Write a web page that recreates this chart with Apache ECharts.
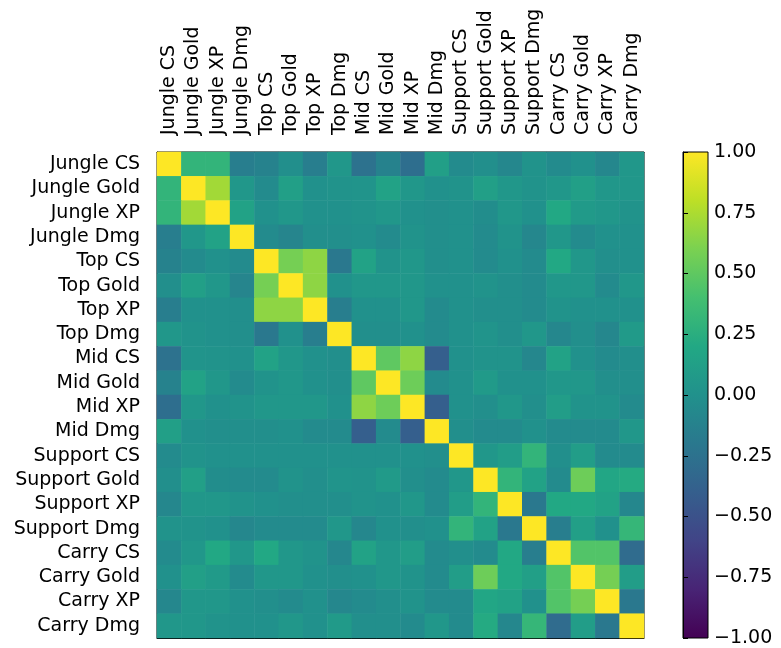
<!DOCTYPE html>
<html>
<head>
<meta charset="utf-8">
<script src="https://cdn.jsdelivr.net/npm/echarts@6/dist/echarts.min.js"></script>
<style>
  html, body { margin: 0; padding: 0; background: #fff; }
  #main { width: 781px; height: 648px; }
</style>
</head>
<body>
<div id="main"></div>
<script>
var labels = ['Jungle CS', 'Jungle Gold', 'Jungle XP', 'Jungle Dmg', 'Top CS', 'Top Gold', 'Top XP', 'Top Dmg',
  'Mid CS', 'Mid Gold', 'Mid XP', 'Mid Dmg', 'Support CS', 'Support Gold', 'Support XP', 'Support Dmg',
  'Carry CS', 'Carry Gold', 'Carry XP', 'Carry Dmg'];

// correlation rows
var rowJungleCS   = [1, 0.30, 0.30, -0.15, -0.12, -0.02, -0.15, 0.05, -0.25, -0.12, -0.28, 0.12, -0.05, -0.02, -0.08, 0.02, -0.05, 0.00, -0.08, 0.05];
var rowJungleGold = [0.30, 1, 0.72, 0.05, -0.05, 0.12, 0.00, 0.02, 0.03, 0.15, 0.05, 0.00, 0.02, 0.12, 0.05, 0.02, 0.05, 0.12, 0.05, 0.05];
var rowJungleXP   = [0.30, 0.72, 1, 0.15, 0.00, 0.05, 0.00, 0.00, 0.02, 0.05, 0.00, -0.02, 0.00, -0.03, 0.05, 0.00, 0.20, 0.08, 0.05, 0.02];
var rowJungleDmg  = [-0.15, 0.05, 0.15, 1, -0.05, -0.10, -0.02, -0.02, 0.00, -0.05, 0.02, -0.02, 0.00, -0.05, 0.02, -0.08, 0.05, -0.05, 0.00, 0.00];
var rowTopCS      = [-0.12, -0.05, 0.00, -0.05, 1, 0.58, 0.66, -0.20, 0.15, 0.02, 0.05, -0.02, 0.00, -0.05, 0.00, -0.05, 0.20, 0.05, -0.02, 0.00];
var rowTopGold    = [-0.02, 0.12, 0.05, -0.10, 0.58, 1, 0.66, 0.00, 0.05, 0.05, 0.05, 0.00, 0.00, 0.02, -0.02, -0.05, 0.05, 0.05, -0.05, 0.05];
var rowTopXP      = [-0.15, 0.00, 0.00, -0.02, 0.66, 0.66, 1, -0.15, 0.00, 0.00, 0.05, -0.05, 0.00, -0.02, -0.02, -0.05, 0.02, 0.00, 0.00, 0.00];
var rowTopDmg     = [0.05, 0.02, 0.00, -0.02, -0.20, 0.00, -0.15, 1, -0.02, -0.02, 0.00, -0.05, 0.00, 0.03, -0.02, 0.05, -0.08, -0.02, -0.08, 0.08];
var rowMidCS      = [-0.25, 0.03, 0.02, 0.00, 0.15, 0.05, 0.00, -0.02, 1, 0.50, 0.66, -0.40, 0.00, 0.02, 0.02, -0.08, 0.15, 0.00, -0.05, -0.02];
var rowMidGold    = [-0.12, 0.15, 0.05, -0.05, 0.02, 0.05, 0.00, -0.02, 0.50, 1, 0.55, -0.05, 0.00, 0.08, 0.00, 0.00, 0.05, 0.05, -0.02, -0.02];
var rowMidXP      = [-0.28, 0.05, 0.00, 0.02, 0.05, 0.05, 0.05, 0.00, 0.66, 0.55, 1, -0.40, 0.00, -0.02, 0.05, -0.02, 0.10, 0.02, 0.02, -0.05];
var rowMidDmg     = [0.12, 0.00, -0.02, -0.02, -0.02, 0.00, -0.05, -0.05, -0.40, -0.05, -0.40, 1, -0.02, -0.05, -0.05, 0.00, -0.05, -0.05, -0.05, 0.05];
var rowSupCS      = [-0.05, 0.02, 0.00, 0.00, 0.00, 0.00, 0.00, 0.00, 0.00, 0.00, 0.00, -0.02, 1, 0.05, 0.10, 0.30, -0.02, 0.10, -0.05, -0.05];
var rowSupGold    = [-0.02, 0.12, -0.03, -0.05, -0.05, 0.02, -0.02, 0.03, 0.02, 0.08, -0.02, -0.05, 0.05, 1, 0.30, 0.15, -0.05, 0.55, 0.18, 0.22];
var rowSupXP      = [-0.08, 0.05, 0.05, 0.02, 0.00, -0.02, -0.02, -0.02, 0.02, 0.00, 0.05, -0.05, 0.10, 0.30, 1, -0.20, 0.20, 0.20, 0.15, -0.08];
var rowSupDmg     = [0.02, 0.02, 0.00, -0.08, -0.05, -0.05, -0.05, 0.05, -0.08, 0.00, -0.02, 0.00, 0.30, 0.15, -0.20, 1, -0.15, 0.12, 0.00, 0.32];
var rowCarryCS    = [-0.05, 0.05, 0.20, 0.05, 0.20, 0.05, 0.02, -0.08, 0.15, 0.05, 0.10, -0.05, -0.02, -0.05, 0.20, -0.15, 1, 0.45, 0.45, -0.30];
var rowCarryGold  = [0.00, 0.12, 0.08, -0.05, 0.05, 0.05, 0.00, -0.02, 0.00, 0.05, 0.02, -0.05, 0.10, 0.55, 0.20, 0.12, 0.45, 1, 0.58, 0.10];
var rowCarryXP    = [-0.08, 0.05, 0.05, 0.00, -0.02, -0.05, 0.00, -0.08, -0.05, -0.02, 0.02, -0.05, -0.05, 0.18, 0.15, 0.00, 0.45, 0.58, 1, -0.20];
var rowCarryDmg   = [0.05, 0.05, 0.02, 0.00, 0.00, 0.05, 0.00, 0.08, -0.02, -0.02, -0.05, 0.05, -0.05, 0.22, -0.08, 0.32, -0.30, 0.10, -0.20, 1];

var matrix = [rowJungleCS, rowJungleGold, rowJungleXP, rowJungleDmg, rowTopCS, rowTopGold, rowTopXP, rowTopDmg,
  rowMidCS, rowMidGold, rowMidXP, rowMidDmg, rowSupCS, rowSupGold, rowSupXP, rowSupDmg,
  rowCarryCS, rowCarryGold, rowCarryXP, rowCarryDmg];

var viridis = ['#440154', '#482475', '#414487', '#355f8d', '#2a788e', '#21918c',
  '#22a884', '#44bf70', '#7ad151', '#bddf26', '#fde725'];

var cells = [];
for (var i = 0; i < matrix.length; i++) {
  for (var j = 0; j < matrix[i].length; j++) {
    cells.push([j, i, matrix[i][j]]);
  }
}

var font = 'DejaVu Sans';
var fs = 19;
var stops = [];
for (var k = 0; k < viridis.length; k++) {
  stops.push({ offset: 1 - k / (viridis.length - 1), color: viridis[k] });
}

var chart = echarts.init(document.getElementById('main'));
chart.setOption({
  animation: false,
  backgroundColor: '#fff',
  textStyle: { fontFamily: font },
  grid: [
    { left: 157, top: 152, width: 487, height: 486, show: true, borderColor: '#000', borderWidth: 1, backgroundColor: 'transparent' },
    { left: 683, top: 152, width: 25, height: 486, show: true, borderColor: '#000', borderWidth: 1, backgroundColor: 'transparent' }
  ],
  xAxis: [
    {
      type: 'category', gridIndex: 0, position: 'top', data: labels,
      axisLine: { lineStyle: { color: '#000' } },
      axisTick: { alignWithLabel: true, interval: 0, length: 5, lineStyle: { color: '#000' } },
      axisLabel: { interval: 0, rotate: -90, margin: 17, fontSize: fs, color: '#000', fontFamily: font },
      splitLine: { show: false }
    },
    {
      type: 'category', gridIndex: 0, position: 'bottom', data: labels,
      axisLine: { lineStyle: { color: '#000' } },
      axisTick: { alignWithLabel: true, interval: 0, length: 5, lineStyle: { color: '#000' } },
      axisLabel: { show: false },
      splitLine: { show: false }
    },
    { type: 'value', gridIndex: 1, show: false, min: 0, max: 1 }
  ],
  yAxis: [
    {
      type: 'category', gridIndex: 0, data: labels, inverse: true,
      axisLine: { lineStyle: { color: '#000' } },
      axisTick: { alignWithLabel: true, interval: 0, length: 5, lineStyle: { color: '#000' } },
      axisLabel: { interval: 0, margin: 17, fontSize: fs, color: '#000', fontFamily: font },
      splitLine: { show: false }
    },
    {
      type: 'value', gridIndex: 1, position: 'right', min: -1, max: 1, interval: 0.25,
      axisLine: { show: true, lineStyle: { color: '#000' } },
      axisTick: { show: true, length: 5, lineStyle: { color: '#000' } },
      axisLabel: {
        margin: 6, fontSize: fs, color: '#000', fontFamily: font,
        formatter: function (v) {
          var s = Math.abs(v).toFixed(2);
          return v < 0 ? '\u2212' + s : s;
        }
      },
      splitLine: { show: false }
    }
  ],
  visualMap: {
    show: false, type: 'continuous', min: -1, max: 1, seriesIndex: 0,
    inRange: { color: viridis }
  },
  graphic: [{
    type: 'rect', z: -1,
    shape: { x: 683, y: 152, width: 25, height: 486 },
    style: { fill: new echarts.graphic.LinearGradient(0, 0, 0, 1, stops) }
  }],
  series: [{
    type: 'heatmap', xAxisIndex: 0, yAxisIndex: 0, data: cells,
    itemStyle: { borderWidth: 0 },
    emphasis: { disabled: true }
  }]
});
</script>
</body>
</html>
